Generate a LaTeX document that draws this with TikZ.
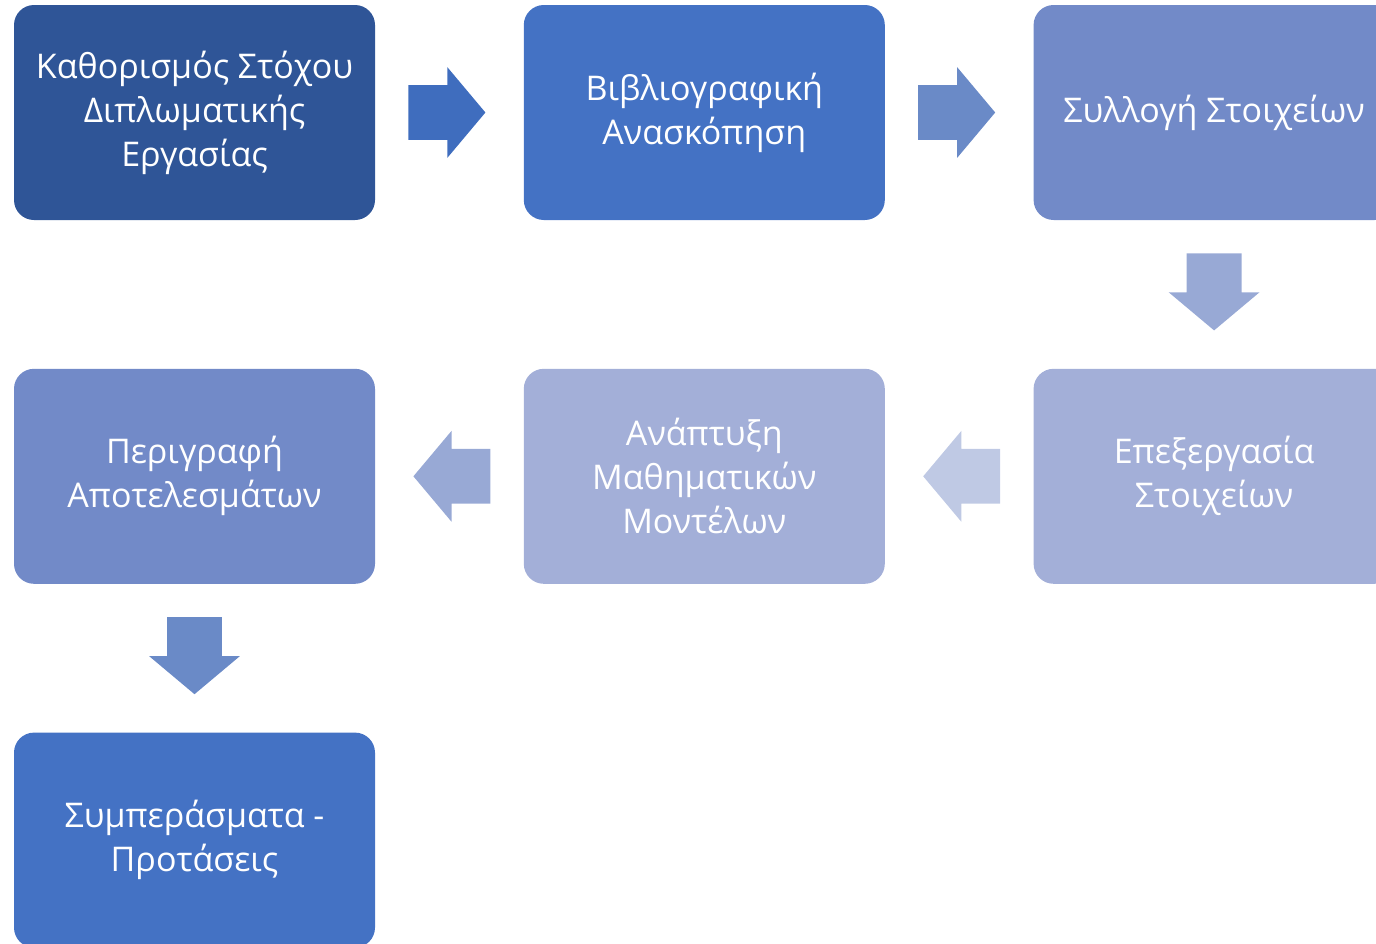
\documentclass[tikz,border=0pt]{standalone}
\usepackage{fontspec}
\setmainfont{Open Sans}
\usetikzlibrary{positioning,shapes.arrows,calc}
\definecolor{navy}{HTML}{2F5597}
\definecolor{midblue}{HTML}{4472C4}
\definecolor{softblue}{HTML}{728AC8}
\definecolor{paleblue}{HTML}{A3AFD8}
\definecolor{arrowA}{HTML}{3F6DBE}
\definecolor{arrowB}{HTML}{6A8AC7}
\definecolor{arrowC}{HTML}{98A9D5}
\definecolor{arrowD}{HTML}{BFC9E4}
\tikzset{
    % boxes of the work plan
    stage/.style={
           rectangle,
           rounded corners=10pt,
           draw=none,
           text=white,
           minimum width=180.5pt,
           minimum height=107.5pt,
           align=center,
           font=\fontsize{17}{22}\selectfont},
    % block arrows between the boxes
    blockarrow/.style={
           single arrow,
           draw=none,
           inner xsep=0pt,
           inner ysep=13.5pt,
           minimum height=38.5pt,
           single arrow head extend=9pt,
           single arrow tip angle=100},
    % direction, then pull back so the arrow sits in the gap
    pointing/.style={
           rotate=#1,
           xshift=-7pt}
}
\begin{document}
\begin{tikzpicture}[x=0.5pt,y=-0.5pt,node distance=74pt]
\useasboundingbox (0,0) rectangle (1376,943);
\clip (0,0) rectangle (1376,943);
\node[stage, fill=navy] (goal) at (194.5,112.5) {Καθορισμός Στόχου\\Διπλωματικής\\Εργασίας};
\node[stage, fill=midblue, right=of goal] (lit) {Βιβλιογραφική\\Ανασκόπηση};
\node[stage, fill=softblue, right=of lit] (data) {Συλλογή Στοιχείων};
\node[stage, fill=paleblue, below=of data] (proc) {Επεξεργασία\\Στοιχείων};
\node[stage, fill=paleblue, below=of lit] (models) {Ανάπτυξη\\Μαθηματικών\\Μοντέλων};
\node[stage, fill=softblue, below=of goal] (results) {Περιγραφή\\Αποτελεσμάτων};
\node[stage, fill=midblue, below=of results] (concl) {Συμπεράσματα -\\Προτάσεις};

\node[blockarrow, fill=arrowA, pointing=0] (a1) at ($(goal.east)!0.5!(lit.west)$) {};
\node[blockarrow, fill=arrowB, pointing=0] (a2) at ($(lit.east)!0.5!(data.west)$) {};
\node[blockarrow, fill=arrowC, pointing=-90] (a3) at ($(data.south)!0.5!(proc.north)$) {};
\node[blockarrow, fill=arrowD, pointing=180] (a4) at ($(proc.west)!0.5!(models.east)$) {};
\node[blockarrow, fill=arrowC, pointing=180] (a5) at ($(models.west)!0.5!(results.east)$) {};
\node[blockarrow, fill=arrowB, pointing=-90] (a6) at ($(results.south)!0.5!(concl.north)$) {};
\end{tikzpicture}
\end{document}
